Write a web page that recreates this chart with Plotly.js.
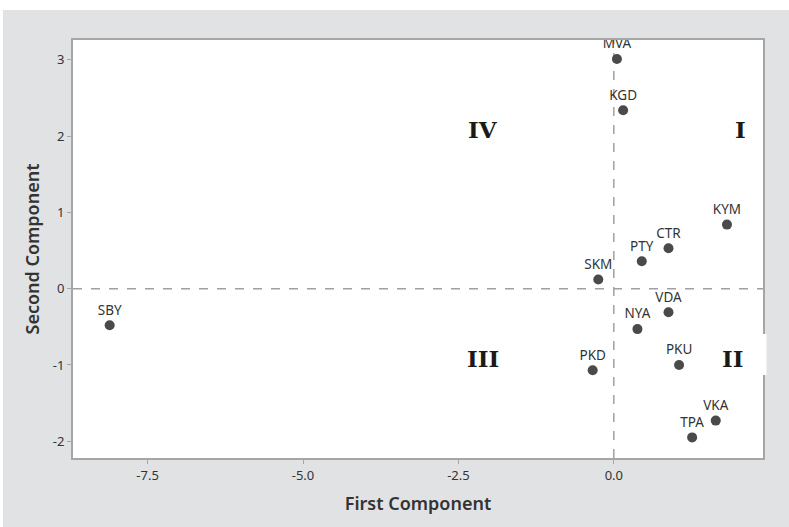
<!DOCTYPE html>
<html>
<head>
<meta charset="utf-8">
<script src="https://cdn.plot.ly/plotly-3.0.1.min.js"></script>
<style>html,body{margin:0;padding:0;background:#fff;}#chart{width:789px;height:527px;}</style>
</head>
<body>
<div id="chart"></div>
<script>
const names = ["MVA","KGD","KYM","CTR","PTY","SKM","SBY","VDA","NYA","PKD","PKU","VKA","TPA"];
const firstComp = [0.05, 0.15, 1.82, 0.88, 0.45, -0.25, -8.11, 0.88, 0.38, -0.34, 1.05, 1.64, 1.26];
const secondComp = [3.01, 2.34, 0.84, 0.53, 0.36, 0.12, -0.48, -0.31, -0.53, -1.07, -1.00, -1.73, -1.95];
const quadLabels = ["IV","I","III","II"];
const quadX = [-2.10, 2.03, -2.10, 1.92];
const quadY = [2.09, 2.09, -0.91, -0.91];
const xTicks = [-7.5, -5.0, -2.5, 0.0];
const xTickText = ["-7.5","-5.0","-2.5","0.0"];
const yTicks = [-2, -1, 0, 1, 2, 3];
const yTickText = ["-2","-1","0","1","2","3"];

const trace = {
  x: firstComp, y: secondComp, text: names,
  type: "scatter", mode: "markers+text",
  textposition: "top center",
  textfont: {family: "Noto Sans", size: 13.5, color: "#333"},
  marker: {size: 10, color: "#4a4a4a"},
  cliponaxis: false, hoverinfo: "skip"
};

const annotations = quadLabels.map((t, i) => ({
  x: quadX[i], y: quadY[i], xref: "x", yref: "y", text: t, showarrow: false,
  font: {family: "DejaVu Serif", size: 23, color: "#1a1a1a", weight: "bold"}
}));

const layout = {
  width: 789, height: 527,
  margin: {l: 73, r: 26, t: 40, b: 69},
  paper_bgcolor: "#e1e2e4", plot_bgcolor: "#ffffff",
  showlegend: false,
  font: {family: "Noto Sans", color: "#333"},
  xaxis: {
    range: [-8.70, 2.40], tickvals: xTicks, ticktext: xTickText,
    showgrid: false, zeroline: false,
    showline: true, linecolor: "#a6a6a6", linewidth: 2, mirror: true,
    ticks: "outside", ticklen: 4, tickcolor: "#a6a6a6",
    tickfont: {family: "Noto Sans", size: 13, color: "#333"},
    title: {text: "First Component", font: {family: "Noto Sans", size: 18, color: "#333", weight: 600}, standoff: 15}
  },
  yaxis: {
    range: [-2.22, 3.26], tickvals: yTicks, ticktext: yTickText,
    showgrid: false, zeroline: false,
    showline: true, linecolor: "#a6a6a6", linewidth: 2, mirror: true,
    ticks: "outside", ticklen: 4, tickcolor: "#a6a6a6",
    tickfont: {family: "Noto Sans", size: 13, color: "#333"},
    title: {text: "Second Component", font: {family: "Noto Sans", size: 18, color: "#333", weight: 600}, standoff: 8}
  },
  shapes: [
    {type: "line", xref: "x", yref: "paper", x0: 0, x1: 0, y0: 0, y1: 1, line: {color: "#a0a0a0", width: 1.5, dash: "dash"}, layer: "below"},
    {type: "line", xref: "paper", yref: "y", x0: 0, x1: 1, y0: 0, y1: 0, line: {color: "#a0a0a0", width: 1.5, dash: "dash"}, layer: "below"},
    {type: "rect", xref: "paper", yref: "paper", x0: -0.2, x1: 1.1, y0: 1.0 + 30/418, y1: 1.2, fillcolor: "#ffffff", line: {width: 0}, layer: "above"},
    {type: "rect", xref: "paper", yref: "paper", x0: -73/690, x1: -70/690, y0: -0.3, y1: 1.2, fillcolor: "#ffffff", line: {width: 0}, layer: "above"},
    {type: "rect", xref: "paper", yref: "paper", x0: 0.92, x1: 1 + 3.5/690, y0: (458-375)/418, y1: (458-334)/418, fillcolor: "#ffffff", line: {width: 0}, layer: "above"}
  ],
  annotations: annotations
};

Plotly.newPlot("chart", [trace], layout, {displayModeBar: false, staticPlot: true});
</script>
</body>
</html>
